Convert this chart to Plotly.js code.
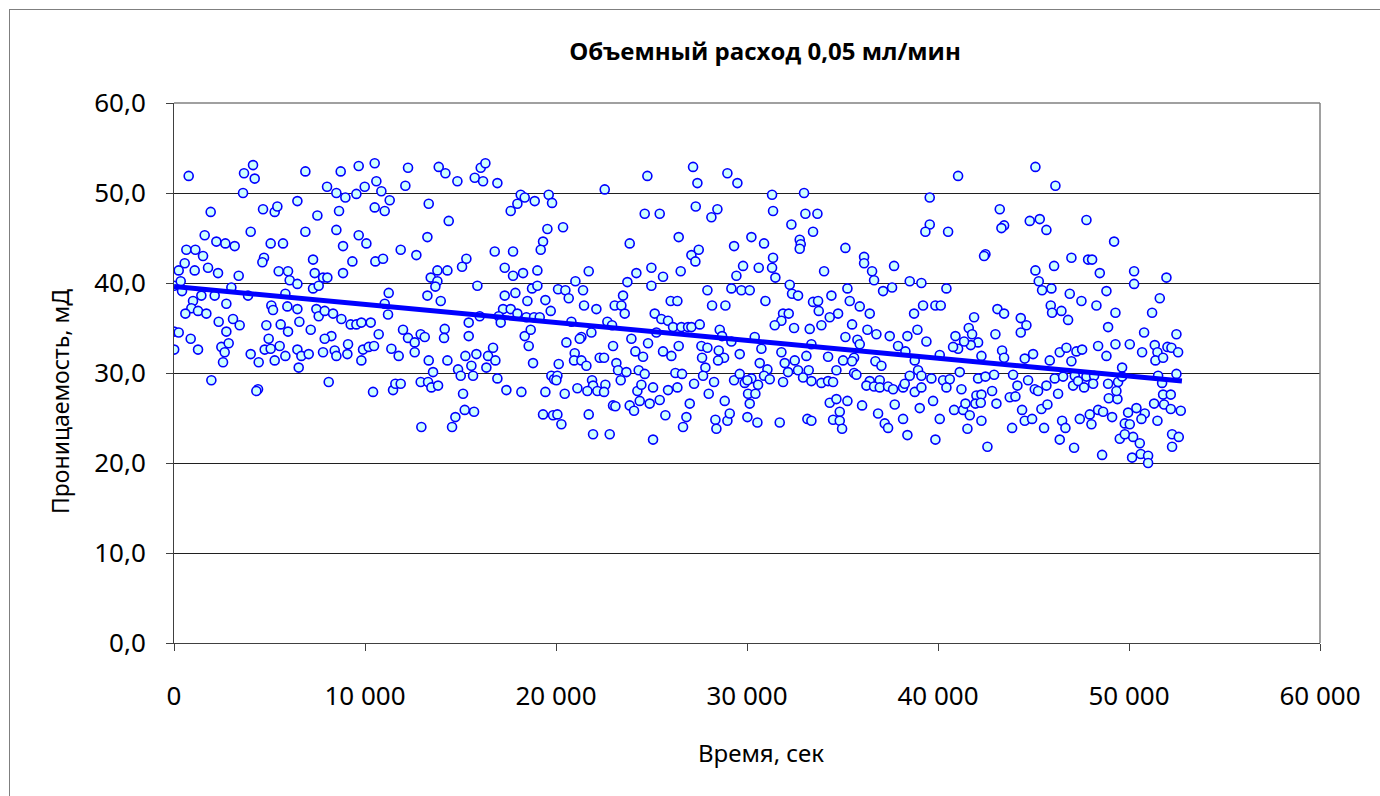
<!DOCTYPE html>
<html>
<head>
<meta charset="utf-8">
<script src="https://cdn.plot.ly/plotly-3.0.1.min.js"></script>
<style>
  html, body { margin: 0; padding: 0; background: #fff; overflow: hidden; }
  #frame { position: absolute; left: 9px; top: 9px; width: 1400px; height: 820px; border: 1px solid #7f7f7f; box-sizing: border-box; pointer-events: none; z-index: 5; }
  #chart { position: absolute; left: 0; top: 0; width: 1380px; height: 796px; }
</style>
</head>
<body>
<div id="chart"></div>
<div id="frame"></div>
<script>
// ---- Data: [time, s ; permeability, mD], by time range ----
const seg0 = [[769,51.9],[3666,52.2],[4137,53.1],[4225,51.6],[3614,50.0],[1921,47.9],[4661,48.2],[5272,47.9],[5411,48.5],[4015,45.7],[1607,45.3],[2218,44.6],[2689,44.4],[3178,44.1],[5062,44.4],[5708,44.4],[647,43.7],[1118,43.7],[1520,43.0],[4713,42.8],[4626,42.3],[560,42.2],[246,41.4],[1084,41.4],[1782,41.7],[2305,41.1],[3387,40.8],[5481,41.3],[5970,41.3],[6057,40.3],[2,39.7],[351,40.2],[420,39.1],[3003,39.5],[1433,38.6],[2131,38.6],[2741,37.7],[3876,38.6],[996,38.0],[909,37.2],[1258,36.9],[1694,36.6],[595,36.6],[5097,37.5],[5184,37.0],[5830,38.8],[5935,37.4],[2340,35.7],[3090,36.0],[3439,35.3],[4835,35.3],[5586,35.4],[5970,34.6],[2,34.6],[246,34.5],[2741,34.6],[874,33.8],[1258,32.6],[10,32.6],[2480,32.9],[2863,33.3],[2654,32.3],[2567,31.2],[4015,32.1],[4434,31.2],[4748,32.6],[4957,33.8],[5062,32.7],[5272,31.4],[5533,33.0],[5830,31.9],[1956,29.2],[4399,28.2],[4312,28.0]];
const seg1 = [[6878,52.4],[8728,52.4],[9670,53.0],[10508,53.3],[12253,52.8],[12113,50.8],[8013,50.7],[8501,50.0],[8972,49.5],[9548,49.9],[9985,50.7],[10595,51.3],[10857,50.2],[11293,49.2],[6460,49.1],[10508,48.4],[11032,48.0],[8641,48.0],[7507,47.5],[6878,45.7],[8501,45.9],[9670,45.3],[10072,44.4],[8850,44.1],[11869,43.7],[12689,43.1],[7280,42.6],[9339,42.4],[10543,42.4],[10944,42.7],[7367,41.1],[7803,40.6],[8030,40.6],[8850,41.1],[7280,39.4],[7576,39.7],[6460,39.9],[11241,38.9],[11032,37.7],[11206,36.5],[6460,37.1],[7454,37.1],[7576,36.3],[7891,36.9],[8327,36.6],[8763,36.0],[9252,35.4],[9548,35.4],[9810,35.6],[10299,35.6],[6564,35.7],[7158,34.8],[8240,34.1],[7891,33.8],[9112,33.2],[10717,34.3],[11991,34.8],[12253,33.9],[12602,33.4],[12916,34.3],[6460,32.6],[6669,31.9],[7053,32.1],[7803,32.3],[8414,32.5],[8501,31.9],[9077,32.1],[9810,31.4],[9897,32.6],[10194,32.9],[10473,33.0],[11381,32.7],[11764,31.9],[12602,32.3],[6529,30.6],[8100,29.0],[10421,27.9],[11468,28.1],[11590,28.8],[11869,28.8],[12916,29.0],[12951,24.0]];
const seg2 = [[13860,52.9],[14209,52.2],[14837,51.3],[16059,52.8],[16303,53.3],[15745,51.7],[16181,51.3],[16931,51.1],[18153,49.8],[18362,49.5],[17978,48.8],[17629,48.0],[18886,49.1],[19618,49.8],[19793,48.9],[13336,48.8],[14383,46.9],[19549,46.0],[19322,44.6],[19200,43.7],[13267,45.1],[16792,43.5],[17751,43.5],[15308,42.7],[15081,41.8],[17315,41.7],[17751,40.8],[18275,41.1],[19025,41.4],[13790,41.4],[14314,41.4],[13441,40.6],[13790,40.2],[13685,39.6],[15884,39.7],[13267,38.6],[13965,38.0],[17315,38.6],[17873,38.9],[18502,38.0],[18746,39.4],[19025,39.7],[19444,38.1],[19723,36.9],[17228,37.1],[17629,37.1],[17978,36.6],[18449,36.2],[18851,36.2],[19147,36.2],[17001,36.3],[17106,35.6],[16006,36.3],[15430,35.6],[13127,34.0],[14174,34.9],[14139,33.9],[15430,34.1],[18362,34.1],[18676,34.8],[18571,33.0],[16704,32.8],[15256,31.9],[15832,32.1],[16443,31.9],[16826,31.4],[13336,31.4],[14314,31.4],[14872,30.4],[15570,30.8],[16355,30.6],[13563,30.1],[15012,29.7],[15657,29.7],[16931,29.4],[13302,29.0],[13476,28.4],[13825,28.6],[18798,31.1],[19758,29.7],[19898,29.3],[17402,28.1],[18188,27.9],[19444,27.9],[15134,27.7],[15221,25.9],[15710,25.7],[14732,25.1],[14558,24.0],[19322,25.4],[19845,25.3]];
const seg3 = [[24784,51.9],[22551,50.4],[24645,47.7],[25430,47.7],[20369,46.2],[23859,44.4],[26424,45.1],[21713,41.3],[24208,41.1],[24994,41.7],[25604,40.7],[26529,41.3],[21015,40.2],[20108,39.3],[20491,39.2],[20666,38.3],[21416,39.2],[23737,40.1],[24994,39.7],[23510,38.6],[21469,37.5],[22114,37.1],[23074,37.5],[23423,37.5],[23598,36.6],[25168,36.6],[25517,36.0],[25866,35.8],[26128,35.1],[26006,38.0],[26355,38.0],[26564,35.1],[20806,35.7],[22690,35.7],[22934,35.3],[21853,34.5],[21329,34.0],[20544,33.4],[21242,33.8],[22987,33.0],[23947,33.8],[24819,33.3],[25255,34.5],[25604,32.4],[26041,31.9],[26424,33.0],[24156,32.4],[24557,31.8],[20142,31.0],[20980,32.2],[20945,31.4],[21329,31.4],[21591,30.8],[22289,31.7],[22516,31.7],[23161,31.1],[23249,30.3],[23685,30.1],[23388,29.2],[24330,30.3],[24645,29.9],[20073,29.7],[20020,29.2],[21887,29.2],[21940,28.6],[22585,28.7],[21120,28.3],[21643,28.0],[22167,28.0],[22516,27.9],[20457,27.7],[22987,26.4],[23109,26.3],[23859,26.4],[24086,25.8],[24261,28.0],[24470,28.7],[25081,28.4],[24383,26.9],[24906,26.6],[25430,27.0],[25866,28.1],[26355,28.4],[26250,30.0],[26599,29.9],[20073,25.4],[20282,24.3],[21713,25.4],[21940,23.2],[22812,23.2],[25081,22.6],[25726,25.3],[26651,24.0]];
const seg4 = [[27176,52.9],[27403,51.1],[28974,52.2],[29497,51.1],[31312,49.8],[32987,50.0],[27316,48.5],[28136,47.3],[28450,48.2],[31364,48.0],[32324,46.5],[33057,47.7],[33458,45.7],[32760,44.8],[32813,44.3],[32760,43.8],[30230,45.1],[30893,44.4],[29323,44.1],[27089,43.1],[27473,43.7],[27298,42.4],[29794,41.9],[29445,40.8],[30614,41.7],[31312,41.7],[31364,42.8],[31486,40.6],[32237,39.8],[32359,38.8],[32673,38.6],[27927,39.2],[29183,39.4],[29707,39.2],[30143,39.2],[28171,37.5],[28869,37.5],[30963,38.0],[33458,37.9],[31888,36.6],[32184,36.6],[31801,35.8],[31452,35.3],[32464,35.0],[26915,35.1],[27089,35.1],[27525,35.4],[28572,34.8],[28694,34.1],[30405,34.0],[29183,33.5],[33284,34.9],[33371,33.2],[27613,33.0],[27927,32.8],[28520,32.5],[28799,31.7],[28485,31.4],[29619,32.1],[30754,32.7],[31801,32.3],[33109,31.9],[27647,31.7],[27822,30.6],[30666,31.1],[31068,30.4],[31975,31.1],[32499,31.4],[32673,30.3],[32150,30.1],[27229,28.8],[27700,29.7],[28276,29.0],[29323,29.2],[29619,29.9],[29881,28.9],[30230,29.4],[30893,29.7],[31190,29.3],[30579,28.7],[30056,27.7],[30439,27.7],[30021,29.2],[31888,29.0],[32935,29.5],[33231,30.3],[33371,29.1],[27996,27.7],[27002,26.6],[28834,26.9],[30143,26.6],[26827,25.1],[28345,24.8],[28398,23.8],[28974,24.7],[29096,25.5],[30021,25.1],[30544,24.5],[31713,24.5],[33162,24.9],[33371,24.7]];
const seg5 = [[39567,49.5],[33687,47.7],[39567,46.5],[39340,45.7],[35152,43.9],[36130,42.9],[36130,42.2],[36548,41.3],[36653,40.3],[37700,41.9],[34036,41.3],[35257,39.4],[37124,39.1],[37595,39.5],[38520,40.2],[39131,40.0],[33722,38.0],[33756,36.9],[34420,38.6],[34769,36.6],[34332,36.2],[35379,38.0],[35903,37.4],[36426,36.6],[38747,36.6],[39218,37.5],[39864,37.5],[40143,37.5],[33896,35.3],[35501,35.4],[36304,34.8],[36775,34.3],[37473,34.1],[38398,34.1],[38922,34.8],[35152,34.0],[35781,33.7],[35903,33.2],[37910,33.0],[38293,32.4],[39393,33.5],[34245,31.8],[35030,31.4],[35606,31.7],[35501,31.3],[36723,31.3],[37037,30.8],[40091,32.0],[38782,31.4],[38957,30.3],[34681,30.3],[35606,30.0],[35728,29.8],[38520,29.7],[36426,29.1],[36950,29.2],[39131,29.7],[39655,29.4],[40266,29.2],[33896,28.9],[34245,29.1],[34507,29.0],[36252,28.6],[36653,28.5],[36950,28.4],[37386,28.5],[37648,28.2],[38171,28.4],[38259,28.8],[38782,27.9],[39131,28.4],[34332,26.7],[34681,27.1],[35257,26.9],[34856,25.7],[34507,24.8],[34856,24.7],[34978,23.8],[36025,26.4],[36863,25.5],[37212,24.4],[37386,23.9],[37735,26.5],[38171,24.9],[38398,23.1],[39044,26.1],[39742,26.9],[40091,24.9],[39864,22.6]];
const seg6 = [[41052,51.9],[45100,52.9],[46147,50.8],[43233,48.2],[43460,46.4],[43321,46.1],[44804,46.9],[45327,47.1],[45676,45.9],[40529,45.7],[42483,43.2],[42413,43.0],[46985,42.8],[45100,41.4],[46078,41.9],[45275,40.2],[45449,39.2],[45938,39.4],[40441,39.4],[46898,38.8],[45903,37.5],[45973,36.7],[46462,36.9],[46811,35.9],[43111,37.1],[43460,36.6],[41890,36.2],[44333,36.1],[44629,35.3],[44333,34.5],[43006,34.3],[40912,34.1],[41610,35.0],[41785,34.3],[42099,33.4],[41715,33.1],[41366,33.5],[41052,32.7],[40790,32.9],[42274,31.9],[43355,32.5],[43460,31.7],[44542,31.6],[44978,32.1],[45851,31.4],[46374,32.3],[46723,32.8],[46985,31.3],[40616,29.3],[40441,28.4],[41139,30.1],[41227,28.2],[42099,29.4],[42483,29.6],[42937,29.8],[43931,29.8],[44158,28.6],[44717,29.2],[45066,28.2],[45240,28.0],[45676,28.6],[46113,29.4],[46549,29.6],[47072,28.6],[46287,27.7],[42012,27.5],[42274,27.6],[42832,28.0],[43059,26.6],[43757,27.3],[44053,27.4],[40843,25.9],[41314,25.9],[41436,26.6],[41959,26.6],[42239,26.7],[41663,25.3],[41541,23.8],[42274,24.7],[43879,23.9],[44402,25.9],[44542,24.7],[44926,24.9],[45415,26.0],[45729,26.5],[45554,23.9],[46497,24.7],[46671,23.9],[46374,22.6],[42588,21.8],[47125,21.7]];
const seg7 = [[47772,47.0],[49220,44.6],[47859,42.6],[48068,42.6],[48470,41.1],[50267,41.3],[50267,39.9],[51960,40.6],[48819,39.1],[47510,38.0],[48295,37.5],[49290,36.7],[51209,36.7],[51611,38.3],[48906,35.1],[50791,34.5],[52483,34.3],[47248,32.4],[47545,32.6],[48383,33.0],[48819,31.9],[49290,33.2],[50040,33.2],[50686,32.3],[51349,33.1],[51489,32.3],[51384,31.4],[51785,31.7],[52012,32.9],[52222,32.8],[52571,32.3],[49639,30.6],[47161,29.7],[47336,29.1],[47772,29.6],[47650,28.4],[48173,29.7],[48121,28.8],[48906,28.8],[49430,29.0],[49639,29.6],[48941,27.2],[49395,27.1],[49342,28.0],[51524,29.7],[51733,28.9],[52483,29.9],[51785,27.6],[52187,27.6],[51314,26.6],[51838,26.5],[52187,26.0],[52710,25.8],[47423,24.9],[47946,25.4],[48034,24.3],[48383,25.9],[48644,25.7],[49115,25.1],[49953,25.6],[50389,26.1],[50826,25.5],[50651,24.9],[51489,24.7],[49779,24.4],[50040,24.3],[50215,22.9],[49517,22.7],[49779,23.2],[50564,22.2],[50162,20.6],[50616,21.0],[51000,20.8],[51000,20.0],[48592,20.9],[52256,21.8],[52256,23.2],[52605,22.9]];

// linear trend line (as drawn in the picture)
const trendTime = [0, 52770];
const trendPerm = [39.6, 29.1];

const xTicks = [0, 10000, 20000, 30000, 40000, 50000, 60000];
const yTicks = [0, 10, 20, 30, 40, 50, 60];

const titleText = 'Объемный расход 0,05 мл/мин';
const xTitle = 'Время, сек';
const yTitle = 'Проницаемость, мД';

const samples = [].concat(seg0, seg1, seg2, seg3, seg4, seg5, seg6, seg7);
const timeSec = samples.map(p => p[0]);
const permMD = samples.map(p => p[1]);

const FONT = 'Noto Sans, Open Sans, sans-serif';
const W = 1380, H = 796;
const M = { l: 174, r: 60, t: 103, b: 153 };
const PW = W - M.l - M.r, PH = H - M.t - M.b;

const traces = [
  {
    type: 'scatter', mode: 'markers',
    x: timeSec, y: permMD,
    marker: { symbol: 'circle', size: 9, color: '#ccffff', line: { color: '#0000ff', width: 1.6 } },
    hoverinfo: 'x+y', showlegend: false
  },
  {
    type: 'scatter', mode: 'lines',
    x: trendTime, y: trendPerm,
    line: { color: '#0000ff', width: 5 },
    showlegend: false
  }
];

const layout = {
  width: W, height: H,
  margin: { l: M.l, r: M.r, t: M.t, b: M.b, pad: 0 },
  paper_bgcolor: '#ffffff', plot_bgcolor: '#ffffff',
  separators: ', ',
  font: { family: FONT, color: '#000000' },
  showlegend: false,
  title: {
    text: titleText,
    font: { family: 'Open Sans, sans-serif', size: 24, weight: 'bold', color: '#000000' },
    xref: 'paper', x: (765 - M.l) / PW, xanchor: 'center',
    yref: 'container', y: 1 - 52 / H, yanchor: 'middle'
  },
  xaxis: {
    range: [0, 60000],
    tickvals: xTicks, tickformat: ',d',
    ticks: 'outside', ticklen: 7, tickcolor: '#404040', tickwidth: 1,
    showline: true, linecolor: '#404040', linewidth: 1,
    showgrid: false, zeroline: false,
    tickfont: { family: FONT, size: 26, color: '#000000' },
    ticklabelstandoff: 23,
    fixedrange: true
  },
  yaxis: {
    range: [0, 60],
    tickvals: yTicks, tickformat: '.1f',
    ticks: 'outside', ticklen: 7, tickcolor: '#404040', tickwidth: 1,
    showline: true, linecolor: '#404040', linewidth: 1,
    showgrid: true, gridcolor: '#202020', gridwidth: 1,
    zeroline: false,
    tickfont: { family: FONT, size: 26, color: '#000000' },
    ticklabelstandoff: 15,
    fixedrange: true
  },
  annotations: [
    { text: xTitle, xref: 'paper', yref: 'paper', x: (761 - M.l) / PW, y: (H - M.b - 752) / PH,
      xanchor: 'center', yanchor: 'middle', showarrow: false,
      font: { family: FONT, size: 24, color: '#000000' } },
    { text: yTitle, xref: 'paper', yref: 'paper', x: (60 - M.l) / PW, y: (H - M.b - 402) / PH,
      xanchor: 'center', yanchor: 'middle', showarrow: false, textangle: -90,
      font: { family: FONT, size: 23, color: '#000000' } }
  ],
  shapes: [
    { type: 'line', xref: 'paper', yref: 'paper', x0: 0, x1: 1, y0: 1, y1: 1, line: { color: '#808080', width: 1.5 }, layer: 'above' },
    { type: 'line', xref: 'paper', yref: 'paper', x0: 1, x1: 1, y0: 0, y1: 1, line: { color: '#808080', width: 1.5 }, layer: 'above' }
  ]
};

Plotly.newPlot('chart', traces, layout, { displayModeBar: false, staticPlot: true });
</script>
</body>
</html>
